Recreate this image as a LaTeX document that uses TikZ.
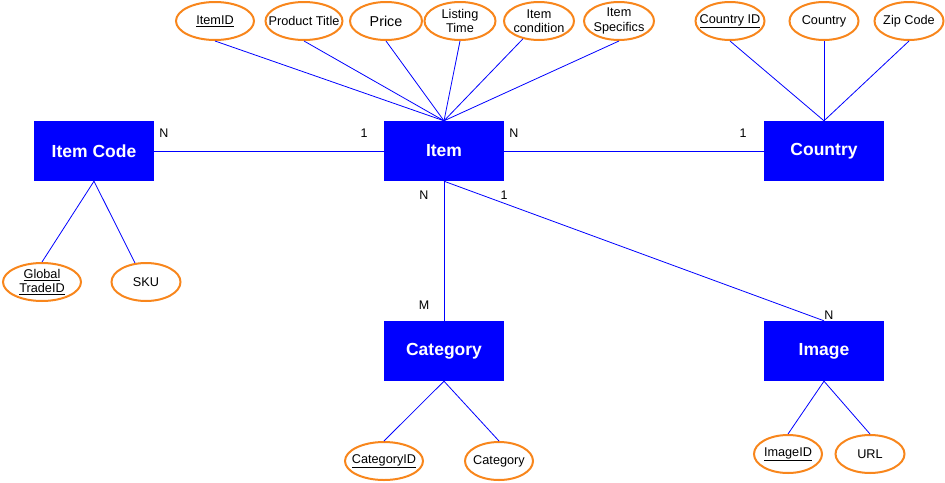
\documentclass[tikz,border=0pt]{standalone}
\usepackage{fontspec}
\setmainfont{Liberation Sans}
\usetikzlibrary{shapes.geometric}
\definecolor{entblue}{RGB}{0,0,255}
\definecolor{attrorange}{RGB}{248,134,28}
\tikzset{
  entity/.style={rectangle, fill=entblue, draw=none, minimum width=120pt, minimum height=60pt, inner sep=0pt,
    text=white, font=\bfseries\fontsize{17.5}{20}\selectfont},
  attrtext/.style={inner sep=0pt, align=center, font=\fontsize{12.7}{14.5}\selectfont},
  attr/.style={ellipse, draw=attrorange, line width=2pt, fill=white, inner sep=0pt, minimum height=38pt,
    label={[attrtext]center:{#1}}},
  conn/.style={draw=entblue, line width=0.8pt},
  card/.style={inner sep=0pt, font=\fontsize{12.5}{14}\selectfont},
}
\begin{document}
\begin{tikzpicture}[x=1pt, y=-1pt]
\useasboundingbox (0,0) rectangle (945,482);
% entities
\node[entity] (itemcode) at (94,151) {Item Code};
\node[entity] (item) at (444,151) {Item};
\node[entity] (country) at (824,151) {Country};
\node[entity] (category) at (444,351) {Category};
\node[entity] (image) at (824,351) {Image};
% item attributes
\node[attr={\underline{ItemID}}, minimum width=78pt] (itemid) at (215,21) {};
\node[attr={Product Title}, minimum width=77pt] (ptitle) at (304,21) {};
\node[attr={\fontsize{14.3}{16}\selectfont Price}, minimum width=72pt] (price) at (386,21) {};
\node[attr={Listing\\Time}, minimum width=71pt] (ltime) at (460,21) {};
\node[attr={Item\\condition}, minimum width=70pt] (icond) at (539,21) {};
\node[attr={Item\\Specifics}, minimum width=70pt] (ispec) at (619,21) {};
% country attributes
\node[attr={\underline{Country ID}}, minimum width=69pt] (cid) at (730,21) {};
\node[attr={Country}, minimum width=69pt] (cname) at (824,21) {};
\node[attr={Zip Code}, minimum width=69pt] (zip) at (909,21) {};
% item code attributes
\node[attr={\underline{Global}\\\underline{TradeID}}, minimum width=78pt] (gtid) at (42,282) {};
\node[attr={SKU}, minimum width=69pt] (sku) at (146,282) {};
% category attributes
\node[attr={\underline{CategoryID}}, minimum width=78pt] (catid) at (384,461) {};
\node[attr={Category}, minimum width=68pt] (catname) at (499,461) {};
% image attributes
\node[attr={\underline{ImageID}}, minimum width=68pt] (imgid) at (788,454) {};
\node[attr={URL}, minimum width=69pt] (url) at (870,454) {};
% attribute connectors
\foreach \a in {itemid,ptitle,price,ltime,ispec} \draw[conn] (item.north) -- (\a.south);
\draw[conn] (item.north) -- (icond.228);
\foreach \a in {cid,cname,zip} \draw[conn] (country.north) -- (\a.south);
\draw[conn] (itemcode.south) -- (gtid.north);
\draw[conn] (itemcode.south) -- (sku.120);
\draw[conn] (category.south) -- (catid.north);
\draw[conn] (category.south) -- (catname.north);
\draw[conn] (image.south) -- (imgid.north);
\draw[conn] (image.south) -- (url.north);
% relationships
\draw[conn] (itemcode.east) -- (item.west);
\draw[conn] (item.east) -- (country.west);
\draw[conn] (item.south) -- (category.north);
\draw[conn] (item.south) -- (image.north);
% cardinalities
\node[card] (c1) at (164,133) {N};
\node[card] (c2) at (364,133) {1};
\node[card] (c3) at (514,133) {N};
\node[card] (c4) at (743,133) {1};
\node[card] (c5) at (424,195) {N};
\node[card] (c6) at (424,305) {M};
\node[card] (c7) at (504,195) {1};
\node[card] (c8) at (829,315) {N};
\end{tikzpicture}
\end{document}
